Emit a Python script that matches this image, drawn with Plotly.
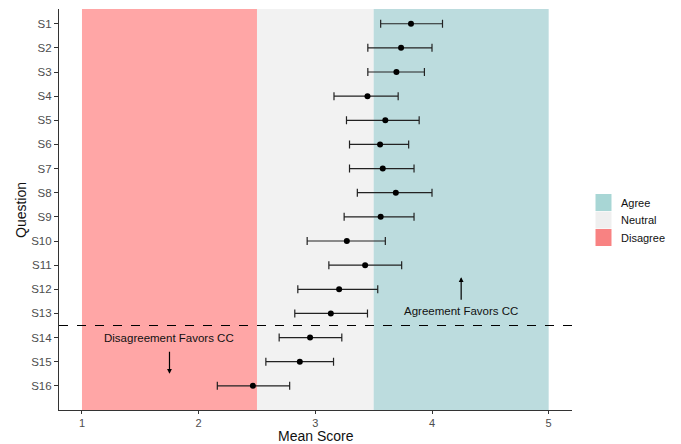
import plotly.graph_objects as go

questions = ["S1", "S2", "S3", "S4", "S5", "S6", "S7", "S8",
             "S9", "S10", "S11", "S12", "S13", "S14", "S15", "S16"]
mean_score = [3.82, 3.735, 3.695, 3.447, 3.60, 3.555, 3.578, 3.69,
              3.56, 3.27, 3.427, 3.204, 3.133, 2.955, 2.867, 2.465]
ci_low = [3.56, 3.45, 3.45, 3.16, 3.267, 3.293, 3.293, 3.36,
          3.247, 2.93, 3.116, 2.85, 2.824, 2.69, 2.576, 2.16]
ci_high = [4.09, 4.00, 3.935, 3.71, 3.89, 3.80, 3.846, 4.00,
           3.846, 3.60, 3.74, 3.535, 3.447, 3.227, 3.156, 2.78]

zones = ["Disagree", "Neutral", "Agree"]
zone_start = [1.0, 2.5, 3.5]
zone_end = [2.5, 3.5, 5.0]
zone_fill = ["#FFA6A6", "#F2F2F2", "#BCDCDE"]
legend_order = ["Agree", "Neutral", "Disagree"]
legend_fill = {"Agree": "#A8D6D5", "Neutral": "#EFEFEF", "Disagree": "#F88282"}

err_plus = [h - m for h, m in zip(ci_high, mean_score)]
err_minus = [m - l for m, l in zip(mean_score, ci_low)]

fig = go.Figure()
fig.add_trace(go.Scatter(
    x=mean_score, y=questions, mode="markers",
    marker=dict(color="black", size=6),
    error_x=dict(type="data", symmetric=False, array=err_plus, arrayminus=err_minus,
                 color="#222222", thickness=1.2, width=4),
    showlegend=False, hoverinfo="x+y"))

shapes = []
for z, s, e, c in zip(zones, zone_start, zone_end, zone_fill):
    shapes.append(dict(type="rect", xref="x", yref="paper", x0=s, x1=e, y0=0, y1=1,
                       fillcolor=c, line=dict(width=0), layer="below"))
shapes.append(dict(type="line", xref="paper", yref="y", x0=0, x1=1, y0=12.5, y1=12.5,
                   line=dict(color="black", width=1, dash="dash")))

annotations = [
    dict(x=1.75, y=13.03, xref="x", yref="y", text="Disagreement Favors CC", showarrow=False,
         font=dict(size=11.5, color="#111111")),
    dict(x=1.75, y=14.5, ax=1.75, ay=13.52, xref="x", yref="y", axref="x", ayref="y",
         text="", showarrow=True, arrowhead=2, arrowsize=0.8, arrowwidth=1.2, arrowcolor="black"),
    dict(x=4.25, y=11.9, xref="x", yref="y", text="Agreement Favors CC", showarrow=False,
         font=dict(size=11.5, color="#111111")),
    dict(x=4.25, y=10.5, ax=4.25, ay=11.5, xref="x", yref="y", axref="x", ayref="y",
         text="", showarrow=True, arrowhead=2, arrowsize=0.8, arrowwidth=1.2, arrowcolor="black"),
]

# page body has an 8px margin: figure is drawn from (8, 8) in the window
OFF = 8
W, H = 681 - OFF, 444 - OFF
ml, mt = 59 - OFF, 9 - OFF
mr = W - (572 - OFF)
mb = H - (410 - OFF)
pw, ph = W - ml - mr, H - mt - mb
def px(xw):
    return (xw - OFF - ml) / pw
def py(yw):
    return 1 - (yw - OFF - mt) / ph

# axis titles
annotations.append(dict(xref="paper", yref="paper", x=px(316), y=py(435.5), text="Mean Score",
                        showarrow=False, xanchor="center", yanchor="middle",
                        font=dict(size=14, color="#111111")))
annotations.append(dict(xref="paper", yref="paper", x=px(21), y=py(210), text="Question",
                        showarrow=False, xanchor="center", yanchor="middle", textangle=-90,
                        font=dict(size=14, color="#111111")))

# legend
for i, name in enumerate(legend_order):
    y0 = 194 + i * 17.5
    shapes.append(dict(type="rect", xref="paper", yref="paper",
                       x0=px(595.5), x1=px(611.5), y0=py(y0 + 17), y1=py(y0),
                       fillcolor=legend_fill[name], line=dict(width=0)))
    annotations.append(dict(xref="paper", yref="paper", x=px(619), y=py(y0 + 8.5),
                            xanchor="left", yanchor="middle", text=name, showarrow=False,
                            font=dict(size=11, color="#111111")))

fig.update_layout(
    width=W, height=H,
    margin=dict(l=ml, r=mr, t=mt, b=mb, autoexpand=False),
    plot_bgcolor="white", paper_bgcolor="white",
    font=dict(family="Liberation Sans, Arial, sans-serif", size=11, color="#4D4D4D"),
    shapes=shapes, annotations=annotations, showlegend=False,
    xaxis=dict(range=[0.803, 5.2], tickvals=[1, 2, 3, 4, 5], showgrid=False, zeroline=False,
               showline=True, linecolor="#333333", linewidth=1.2, ticks="outside",
               ticklen=3, tickcolor="#333333", tickfont=dict(size=11, color="#4D4D4D"),
               automargin=False),
    yaxis=dict(type="category", categoryorder="array", categoryarray=questions,
               range=[16.0, -0.61], showgrid=False, zeroline=False,
               showline=True, linecolor="#333333", linewidth=1.2, ticks="outside",
               ticklen=4, tickcolor="#333333", tickfont=dict(size=11.5, color="#4D4D4D"),
               automargin=False),
)

fig.write_html("out.html")
